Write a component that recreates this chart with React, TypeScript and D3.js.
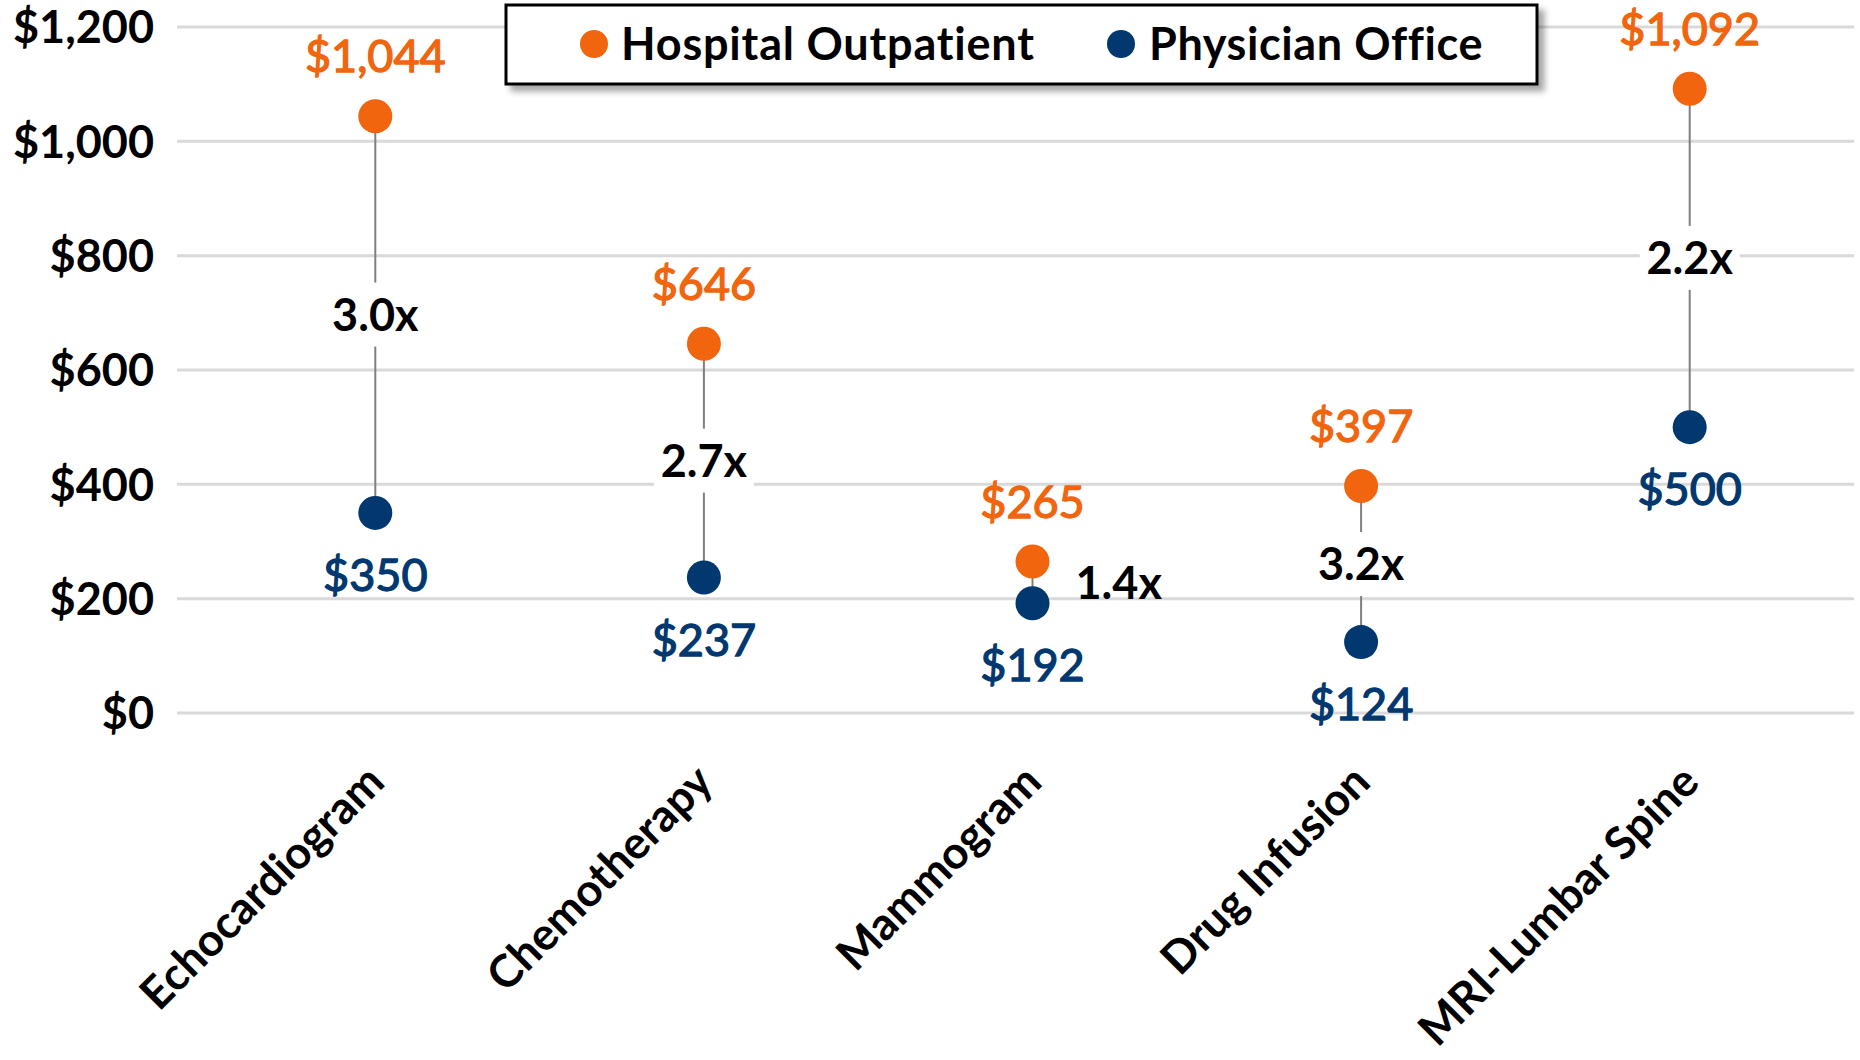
import React from "react";
import * as d3 from "d3";

const categories = ["Echocardiogram", "Chemotherapy", "Mammogram", "Drug Infusion", "MRI-Lumbar Spine"];
const hospitalOutpatient = [1044, 646, 265, 397, 1092];
const physicianOffice = [350, 237, 192, 124, 500];
const yTicks = [0, 200, 400, 600, 800, 1000, 1200];
const seriesNames = ["Hospital Outpatient", "Physician Office"];

const W = 1860;
const H = 1060;
const left = 211;
const right = 1854;
const top = 27;
const bottom = 713;

const ORANGE = "#F0650E";
const NAVY = "#00386F";
const FONT = "Lato, 'Open Sans', sans-serif";

const money = d3.format("$,");

const App = () => {
    const x = d3.scaleBand().domain(categories).range([left, right]);
    const y = d3.scaleLinear().domain([0, 1200]).range([bottom, top]);
    const cx = (c: string) => (x(c) as number) + x.bandwidth() / 2;

    return (
        <svg
            width={W}
            height={H}
            style={{ position: "absolute", left: 0, top: 0, background: "#fff" }}
            fontFamily={FONT}
        >
            <defs>
                <filter id="shadow" x="-5%" y="-20%" width="115%" height="160%">
                    <feDropShadow dx={6} dy={6} stdDeviation={3} floodColor="#000" floodOpacity={0.35} />
                </filter>
            </defs>

            {/* gridlines + y labels */}
            {yTicks.map((t) => (
                <g key={t}>
                    <line x1={left - 34} x2={right} y1={y(t)} y2={y(t)} stroke="#D9D9D9" strokeWidth={3} />
                    <text
                        x={154}
                        y={y(t)}
                        dy="0.36em"
                        textAnchor="end"
                        fontSize={45}
                        fontWeight={700}
                        fill="#000"
                    >
                        {money(t)}
                    </text>
                </g>
            ))}

            {/* dumbbells */}
            {categories.map((c, i) => {
                const yh = y(hospitalOutpatient[i]);
                const yp = y(physicianOffice[i]);
                const mid = (yh + yp) / 2;
                const ratio = (hospitalOutpatient[i] / physicianOffice[i]).toFixed(1) + "x";
                const side = Math.abs(yp - yh) < 100;
                return (
                    <g key={c}>
                        <line x1={cx(c)} x2={cx(c)} y1={yh} y2={yp} stroke="#7F7F7F" strokeWidth={2} />
                        {!side && (
                            <rect x={cx(c) - 50} y={mid - 32} width={100} height={64} fill="#fff" />
                        )}
                        <text
                            x={side ? cx(c) + 43 : cx(c)}
                            y={mid}
                            dy="0.36em"
                            textAnchor={side ? "start" : "middle"}
                            fontSize={45}
                            fontWeight={700}
                            fill="#000"
                        >
                            {ratio}
                        </text>
                        <circle cx={cx(c)} cy={yh} r={17} fill={ORANGE} />
                        <circle cx={cx(c)} cy={yp} r={17} fill={NAVY} />
                        <text
                            x={cx(c)}
                            y={yh - 60}
                            dy="0.36em"
                            textAnchor="middle"
                            fontSize={45}
                            fill={ORANGE}
                            stroke={ORANGE}
                            strokeWidth={1.3}
                        >
                            {money(hospitalOutpatient[i])}
                        </text>
                        <text
                            x={cx(c)}
                            y={yp + 62}
                            dy="0.36em"
                            textAnchor="middle"
                            fontSize={45}
                            fill={NAVY}
                            stroke={NAVY}
                            strokeWidth={1.3}
                        >
                            {money(physicianOffice[i])}
                        </text>
                        <text
                            transform={`translate(${cx(c)},${bottom + 60}) rotate(-45)`}
                            textAnchor="end"
                            dy="0.36em"
                            fontSize={45}
                            fontWeight={700}
                            fill="#000"
                        >
                            {c}
                        </text>
                    </g>
                );
            })}

            {/* legend */}
            <g>
                <rect x={506} y={5} width={1031} height={79} fill="#fff" stroke="#000" strokeWidth={3} filter="url(#shadow)" />
                <circle cx={594} cy={44} r={14} fill={ORANGE} />
                <text x={621} y={44} dy="0.36em" fontSize={45} fontWeight={700} letterSpacing={0.8}>
                    {seriesNames[0]}
                </text>
                <circle cx={1121} cy={44} r={14} fill={NAVY} />
                <text x={1149} y={44} dy="0.36em" fontSize={45} fontWeight={700} letterSpacing={0.6}>
                    {seriesNames[1]}
                </text>
            </g>
        </svg>
    );
};

export default App;
